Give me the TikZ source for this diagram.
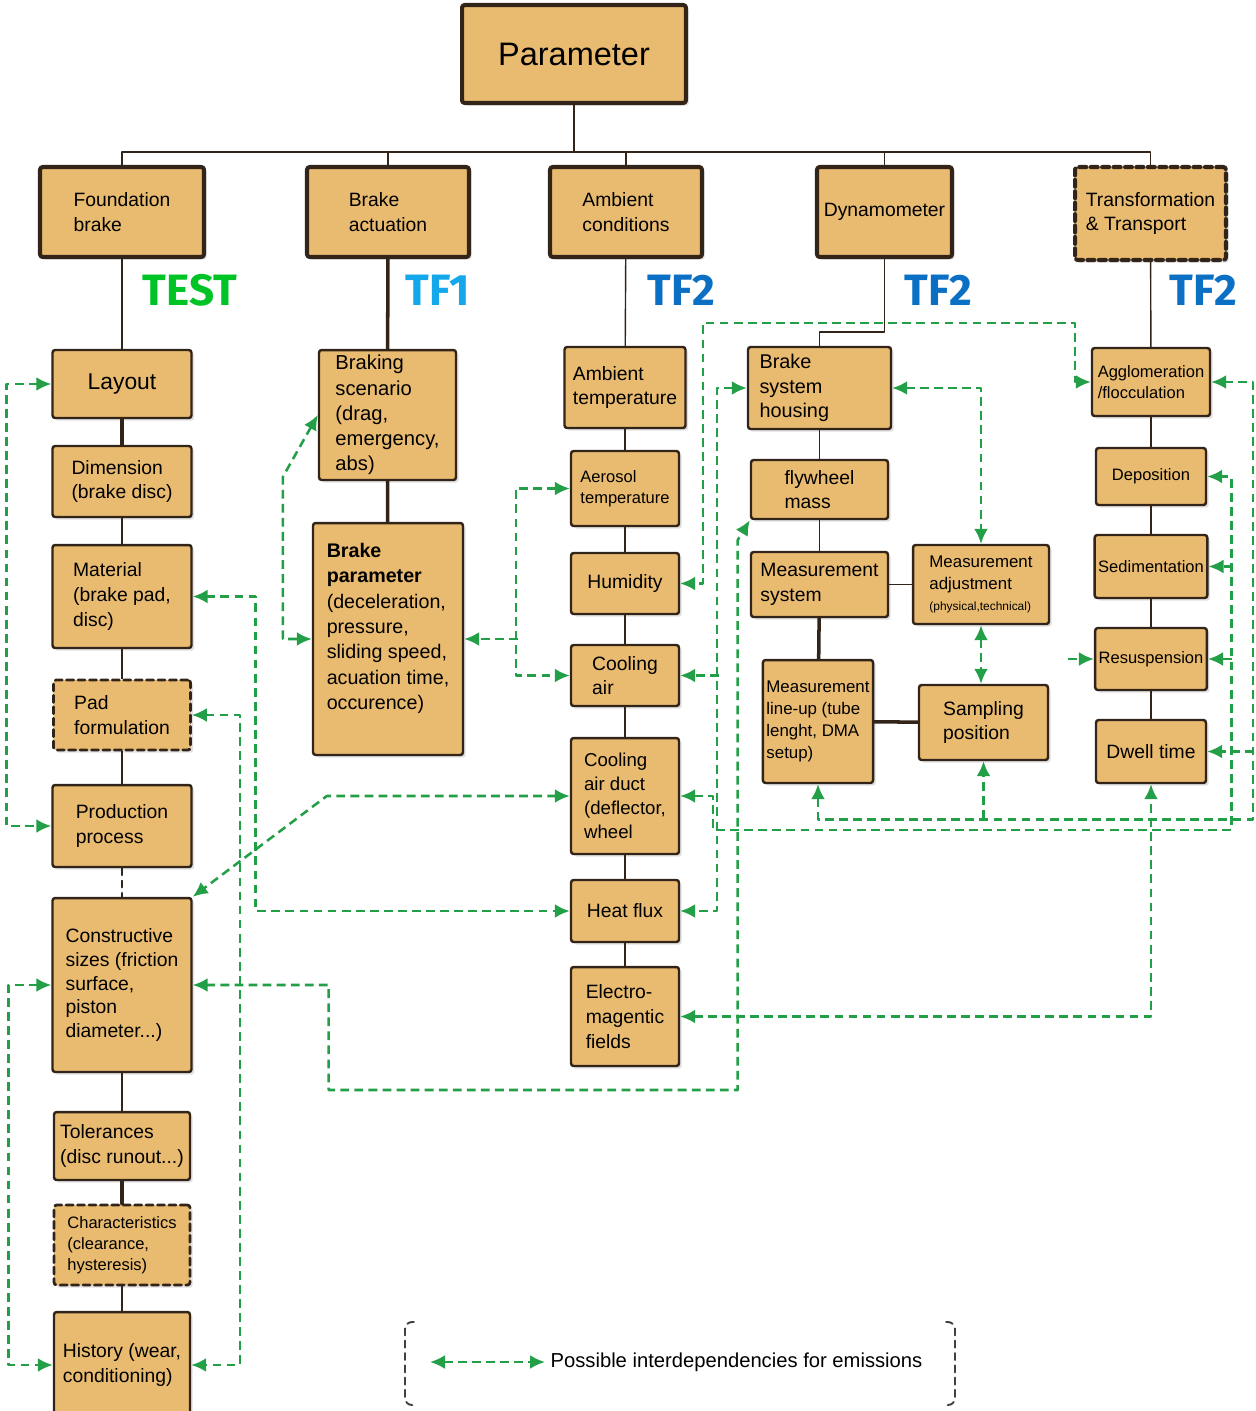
\documentclass[tikz,border=0pt]{standalone}
\usepackage{fontspec}
\setmainfont{Liberation Sans}
\newfontfamily\tffont{Fira Sans}
\usepackage{tikz}
\usetikzlibrary{arrows.meta,shadows}
\definecolor{boxfill}{HTML}{E9BB70}
\definecolor{boxline}{HTML}{33241A}
\definecolor{depgreen}{HTML}{23A047}
\definecolor{testgreen}{HTML}{00C425}
\definecolor{tfone}{HTML}{14A8EA}
\definecolor{tftwo}{HTML}{0B6FC4}
\tikzset{
every picture/.style={line cap=round,line join=round},
param box/.style={
  draw=boxline,
  fill=boxfill,
  rounded corners=1.5pt,
  line width=1.4pt,
  align=left,
  inner sep=2pt,
  font=\fontsize{11}{14}\selectfont,
  drop shadow={shadow xshift=1.5pt, shadow yshift=-1.5pt, fill=black!30, opacity=0.4}
},
top box/.style={param box, line width=2.3pt},
dash box/.style={param box, dash pattern=on 4pt off 2.5pt, line width=1.6pt},
small text/.style={font=\fontsize{9.4}{12}\selectfont},
tree line/.style={draw=boxline, line width=0.8pt},
thick tree/.style={draw=boxline, line width=2pt},
dep line/.style={
  draw=depgreen,
  line width=1.45pt,
  line cap=butt,
  dash pattern=on 5pt off 3pt,
  -{Latex[length=3mm,width=2.8mm]}
},
dep both/.style={dep line, {Latex[length=3mm,width=2.8mm]}-{Latex[length=3mm,width=2.8mm]}},
bracket line/.style={draw=black!75, line width=1.1pt, dash pattern=on 4pt off 3pt, rounded corners=4pt},
tf label/.style={font=\tffont\bfseries\fontsize{25}{25}\selectfont}
}

\begin{document}
\begin{tikzpicture}[x=0.02cm, y=-0.02cm]
\useasboundingbox (0,0) rectangle (1256,1411);

% top level
\node[top box, minimum width=4.48cm, minimum height=1.96cm, font=\fontsize{18.5}{22}\selectfont] (param) at (574,54) {Parameter};
\node[top box, minimum width=3.28cm, minimum height=1.8cm] (found) at (122,212) {Foundation\\brake};
\node[top box, minimum width=3.24cm, minimum height=1.8cm] (actuat) at (388,212) {Brake\\actuation};
\node[top box, minimum width=3.04cm, minimum height=1.8cm] (ambient) at (626,212) {Ambient\\conditions};
\node[top box, minimum width=2.7cm, minimum height=1.8cm] (dyno) at (884.5,212) {Dynamometer};
\node[top box, dash pattern=on 4pt off 2.5pt, minimum width=3.02cm, minimum height=1.86cm] (transf) at (1150.5,213.5) {Transformation\\\& Transport};

\node[tf label, text=testgreen] (test) at (190,290) {TEST};
\node[tf label, text=tfone] (tfa) at (438,290) {TF1};
\node[tf label, text=tftwo] (tfb) at (681,290) {TF2};
\node[tf label, text=tftwo] (tfc) at (938,290) {TF2};
\node[tf label, text=tftwo] (tfd) at (1203,290) {TF2};

% foundation brake
\node[param box, minimum width=2.78cm, minimum height=1.36cm, font=\fontsize{13}{16}\selectfont] (layout) at (122,384) {Layout};
\node[param box, minimum width=2.78cm, minimum height=1.42cm] (dimen) at (122,481.5) {Dimension\\(brake disc)};
\node[param box, minimum width=2.78cm, minimum height=2.06cm] (material) at (122,596.5) {Material\\(brake pad,\\disc)};
\node[dash box, minimum width=2.74cm, minimum height=1.4cm] (padform) at (122,715) {Pad\\formulation};
\node[param box, minimum width=2.78cm, minimum height=1.64cm] (product) at (122,826) {Production\\process};
\node[param box, minimum width=2.78cm, minimum height=3.48cm, font=\fontsize{11}{13.6}\selectfont] (construct) at (122,985) {Constructive\\sizes (friction\\surface,\\piston\\diameter...)};
\node[param box, minimum width=2.72cm, minimum height=1.36cm] (toler) at (122,1146) {Tolerances\\(disc runout...)};
\node[dash box, small text, minimum width=2.72cm, minimum height=1.6cm] (charact) at (122,1245) {Characteristics\\(clearance,\\hysteresis)};
\node[param box, minimum width=2.72cm, minimum height=2.12cm] (history) at (122,1365) {History (wear,\\conditioning)};

% brake actuation
\node[param box, minimum width=2.74cm, minimum height=2.6cm, font=\fontsize{11.5}{14.3}\selectfont] (scen) at (387.5,415) {Braking\\scenario\\(drag,\\emergency,\\abs)};
\node[param box, minimum width=3cm, minimum height=4.64cm, font=\fontsize{11.2}{14.4}\selectfont] (bparam) at (388,639) {\textbf{Brake}\\\textbf{parameter}\\(deceleration,\\pressure,\\sliding speed,\\acuation time,\\occurence)\\\mbox{}};

% ambient conditions
\node[param box, minimum width=2.42cm, minimum height=1.62cm] (ambtemp) at (625,387.5) {Ambient\\temperature};
\node[param box, small text, minimum width=2.16cm, minimum height=1.5cm] (aerosol) at (625,488.5) {Aerosol\\temperature};
\node[param box, minimum width=2.16cm, minimum height=1.22cm] (humid) at (625,583.5) {Humidity};
\node[param box, minimum width=2.16cm, minimum height=1.22cm] (coolair) at (625,675.5) {Cooling\\air};
\node[param box, minimum width=2.16cm, minimum height=2.32cm, font=\fontsize{10.6}{13.6}\selectfont] (duct) at (625,796) {Cooling\\air duct\\(deflector,\\wheel};
\node[param box, minimum width=2.16cm, minimum height=1.24cm] (heat) at (625,911) {Heat flux};
\node[param box, minimum width=2.16cm, minimum height=1.98cm] (electro) at (625,1016.5) {Electro-\\magentic\\fields};

% dynamometer
\node[param box, minimum width=2.86cm, minimum height=1.64cm, text width=2.4cm, font=\fontsize{11.3}{14}\selectfont] (housing) at (819.5,388) {Brake\\system\\housing};
\node[param box, minimum width=2.74cm, minimum height=1.18cm] (flywheel) at (819.5,489.5) {flywheel\\mass};
\node[param box, minimum width=2.74cm, minimum height=1.3cm] (meassys) at (819.5,584.5) {Measurement\\system};
\node[param box, minimum width=2.72cm, minimum height=1.58cm, font=\fontsize{9.6}{12}\selectfont] (measadj) at (981,584.5) {Measurement\\adjustment\\{\fontsize{6.8}{8}\selectfont(physical,technical)}};
\node[param box, minimum width=2.2cm, minimum height=2.46cm, font=\fontsize{9.6}{12.5}\selectfont] (lineup) at (818,721.5) {Measurement\\line-up (tube\\lenght, DMA\\setup)};
\node[param box, minimum width=2.58cm, minimum height=1.5cm] (sampling) at (983.5,722.5) {Sampling\\position};

% transformation & transport
\node[param box, small text, minimum width=2.36cm, minimum height=1.36cm] (agglom) at (1151,382) {Agglomeration\\/flocculation};
\node[param box, small text, minimum width=2.2cm, minimum height=1.14cm] (depos) at (1151,476.5) {Deposition};
\node[param box, small text, minimum width=2.2cm, minimum height=1.26cm] (sedim) at (1151,566.5) {Sedimentation};
\node[param box, small text, minimum width=2.2cm, minimum height=1.24cm] (resusp) at (1151,659) {Resuspension};
\node[param box, minimum width=2.2cm, minimum height=1.26cm] (dwell) at (1151,751.5) {Dwell time};

% tree
\coordinate (bus) at (574,152);
\draw[tree line] (param) -- (bus);
\draw[tree line] (found.north) -- (found.north |- bus) -| (transf.north);
\draw[tree line] (actuat.north) -- (actuat.north |- bus);
\draw[tree line] (ambient.north) -- (ambient.north |- bus);
\draw[tree line] (dyno.north) -- (dyno.north |- bus);

\draw[tree line] (found) -- (layout);
\draw[thick tree] (layout) -- (dimen);
\draw[tree line] (dimen) -- (material);
\draw[tree line] (material) -- (padform);
\draw[tree line] (padform) -- (product);
\draw[tree line, dash pattern=on 4pt off 3pt] (product) -- (construct);
\draw[tree line] (construct) -- (toler);
\draw[thick tree] (toler) -- (charact);
\draw[tree line] (charact) -- (history);

\draw[thick tree] (actuat) -- (scen);
\draw[thick tree] (scen) -- (bparam);

\draw[tree line] (ambient) -- (ambtemp);
\draw[thick tree, line width=1.6pt] (ambtemp) -- (aerosol);
\draw[thick tree, line width=1.6pt] (aerosol) -- (humid);
\draw[thick tree, line width=1.6pt] (humid) -- (coolair);
\draw[thick tree, line width=1.6pt] (coolair) -- (duct);
\draw[thick tree, line width=1.6pt] (duct) -- (heat);
\draw[thick tree, line width=1.6pt] (heat) -- (electro);

\draw[tree line] (dyno.south) -- ++(0,73) -| (housing.north);
\draw[tree line] (housing) -- (flywheel);
\draw[tree line] (flywheel) -- (meassys);
\draw[thick tree] (meassys) -- (lineup);
\draw[tree line] (meassys) -- (measadj);
\draw[thick tree] (lineup) -- (sampling);

\draw[tree line] (transf) -- (agglom);
\draw[thick tree, line width=1.6pt] (agglom) -- (depos);
\draw[thick tree, line width=1.6pt] (depos) -- (sedim);
\draw[thick tree, line width=1.6pt] (sedim) -- (resusp);
\draw[thick tree, line width=1.6pt] (resusp) -- (dwell);

% interdependencies
\draw[dep both] (layout.west) -- ++(-45,0) |- (product.west);
\draw[dep both] (construct.west) -- ++(-43,0) |- (history.west);
\draw[dep both] (material.east) -- ++(63,0) |- (heat.west);
\draw[dep both] (padform.east) -- ++(48,0) |- (history.east);
\draw[dep both] (duct.west) -- ++(-243,0) -- (construct.north east);
\draw[dep both] (construct.east) -- ++(136,0) -- ++(0,105) -- ++(409,0) -- ++(0,-550) -- (flywheel.south west);
\draw[dep both] (scen.west) -- ++(-35,62) |- (bparam.west);
\draw[dep both] (aerosol.west) -- ++(-54,0) |- (coolair.west);
\draw[dep line] (bparam.east) ++(54,0) -- (bparam.east);
\draw[dep both] (agglom.west) -- ++(-16,0) -- ++(0,-59) -- ++(-372,0) |- (humid.east);
\draw[dep both] (housing.west) -- ++(-30,0) |- (heat.east);
\draw[dep line] (coolair.east) ++(39,0) -- (coolair.east);
\draw[dep both] (duct.east) -- ++(33,0) -- ++(0,34) -- ++(518,0) |- (depos.east);
\draw[dep line] (sedim.east) ++(24,0) -- (sedim.east);
\draw[dep line] (resusp.east) ++(24,0) -- (resusp.east);
\draw[dep line] (resusp.west) ++(-26,0) -- (resusp.west);
\draw[dep both] (lineup.south) -- ++(0,35) -- ++(435,0) |- (agglom.east);
\draw[dep line] (dwell.east) ++(47,0) -- (dwell.east);
\draw[dep line] (sampling.south) ++(0,58) -- (sampling.south);
\draw[dep both] (housing.east) -| (measadj.north);
\draw[dep both] (measadj.south) -- (sampling.north -| measadj.south);
\draw[dep both] (electro.east) -| (dwell.south);

% legend
\coordinate (legstart) at (430,1362);
\node[anchor=west, inner sep=3pt, font=\fontsize{11.5}{14}\selectfont] (legtext) at (545,1362) {Possible interdependencies for emissions};
\draw[dep both] (legstart) -- (legtext.west);
\draw[bracket line] (414,1322) -| (405,1362) |- (414,1405);
\draw[bracket line] (946,1322) -| (955,1362) |- (946,1405);
\end{tikzpicture}
\end{document}
